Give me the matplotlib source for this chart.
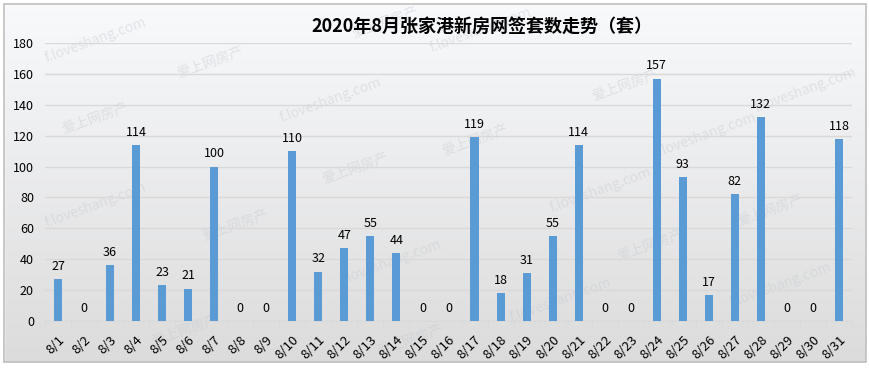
import matplotlib
matplotlib.use("Agg")
import matplotlib.pyplot as plt
import numpy as np
from matplotlib.patches import Rectangle

plt.rcParams['font.family'] = ['Noto Sans CJK SC', 'DejaVu Sans']

days = [f"8/{i}" for i in range(1, 32)]
values = [27, 0, 36, 114, 23, 21, 100, 0, 0, 110, 32, 47, 55, 44, 0, 0,
          119, 18, 31, 55, 114, 0, 0, 157, 93, 17, 82, 132, 0, 0, 118]
title = "2020年8月张家港新房网签套数走势（套）"
yticks = [0, 20, 40, 60, 80, 100, 120, 140, 160, 180]

W, H = 870, 368
fig = plt.figure(figsize=(W / 100, H / 100), dpi=100)

# background gradient
bg = fig.add_axes([0, 0, 1, 1], zorder=-10)
grad = np.linspace(0, 1, 256).reshape(-1, 1)
top = np.array([0.975, 0.98, 0.99])
bot = np.array([0.86, 0.86, 0.86])
img = top[None, None, :] * (1 - grad[:, :, None]) + bot[None, None, :] * grad[:, :, None]
bg.imshow(img, aspect='auto', extent=[0, W, H, 0], zorder=0)

# watermarks
wm = [("f.loveshang.com", 95, 40), ("爱上网房产", 210, 62), ("爱上网房产", 95, 118),
      ("f.loveshang.com", 330, 100), ("爱上网房产", 385, 22), ("f.loveshang.com", 480, 30),
      ("爱上网房产", 475, 140), ("爱上网房产", 355, 168), ("f.loveshang.com", 95, 205),
      ("爱上网房产", 235, 225), ("f.loveshang.com", 390, 262), ("爱上网房产", 410, 340),
      ("爱上网房产", 625, 85), ("f.loveshang.com", 805, 90), ("f.loveshang.com", 705, 135),
      ("爱上网房产", 650, 245), ("爱上网房产", 770, 210), ("f.loveshang.com", 560, 300),
      ("f.loveshang.com", 780, 285), ("爱上网房产", 185, 330), ("f.loveshang.com", 600, 190)]
for t, x, y in wm:
    bg.text(x, y, t, rotation=20, color='#C4C8CE', alpha=0.42, fontsize=10,
            ha='center', va='center', zorder=1)

bg.add_patch(Rectangle((0, 0), W, 4, color='white', zorder=2))
bg.add_patch(Rectangle((0, 362), W, 6, color='white', zorder=2))
bg.add_patch(Rectangle((0, 0), 4, H, color='white', zorder=2))
bg.add_patch(Rectangle((866, 0), 4, H, color='white', zorder=2))
bg.add_patch(Rectangle((4, 4), 862, 358, fill=False, edgecolor='#BFBFBF', lw=1.2, zorder=3))
bg.set_xlim(0, W)
bg.set_ylim(H, 0)
bg.axis('off')

ax = fig.add_axes([45 / W, 1 - 321 / H, (852 - 45) / W, (321 - 43) / H])
ax.set_facecolor('none')
x = np.arange(len(days))
ax.bar(x, values, width=0.31, color='#5B9BD5', zorder=3)
for xi, v in zip(x, values):
    ax.text(xi, v + 4, str(v), ha='center', va='bottom', fontsize=9, color='#000000', zorder=4)

ax.set_xlim(-0.5, len(days) - 0.5)
ax.set_ylim(0, 180)
ax.set_yticks(yticks)
ax.set_yticklabels([str(t) for t in yticks], fontsize=9)
ax.yaxis.grid(True, color='#D9D9D9', lw=1, zorder=0)
ax.tick_params(axis='y', length=0, pad=8)
ax.set_xticks(x)
ax.set_xticklabels(days, rotation=45, fontsize=9.5, ha='right', va='top',
                   rotation_mode='anchor')
ax.set_xticks(np.arange(-0.5, len(days), 1), minor=True)
ax.tick_params(axis='x', which='major', length=0, pad=9)
ax.tick_params(axis='x', which='minor', length=5, color='#D9D9D9', direction='out')
for s in ['top', 'right', 'left']:
    ax.spines[s].set_visible(False)
ax.spines['bottom'].set_color('#D9D9D9')

fig.text(482 / W, 1 - 27 / H, title, ha='center', va='center', fontsize=13,
         fontweight='bold', color='#000000')

fig.savefig('out.png', dpi=100)
